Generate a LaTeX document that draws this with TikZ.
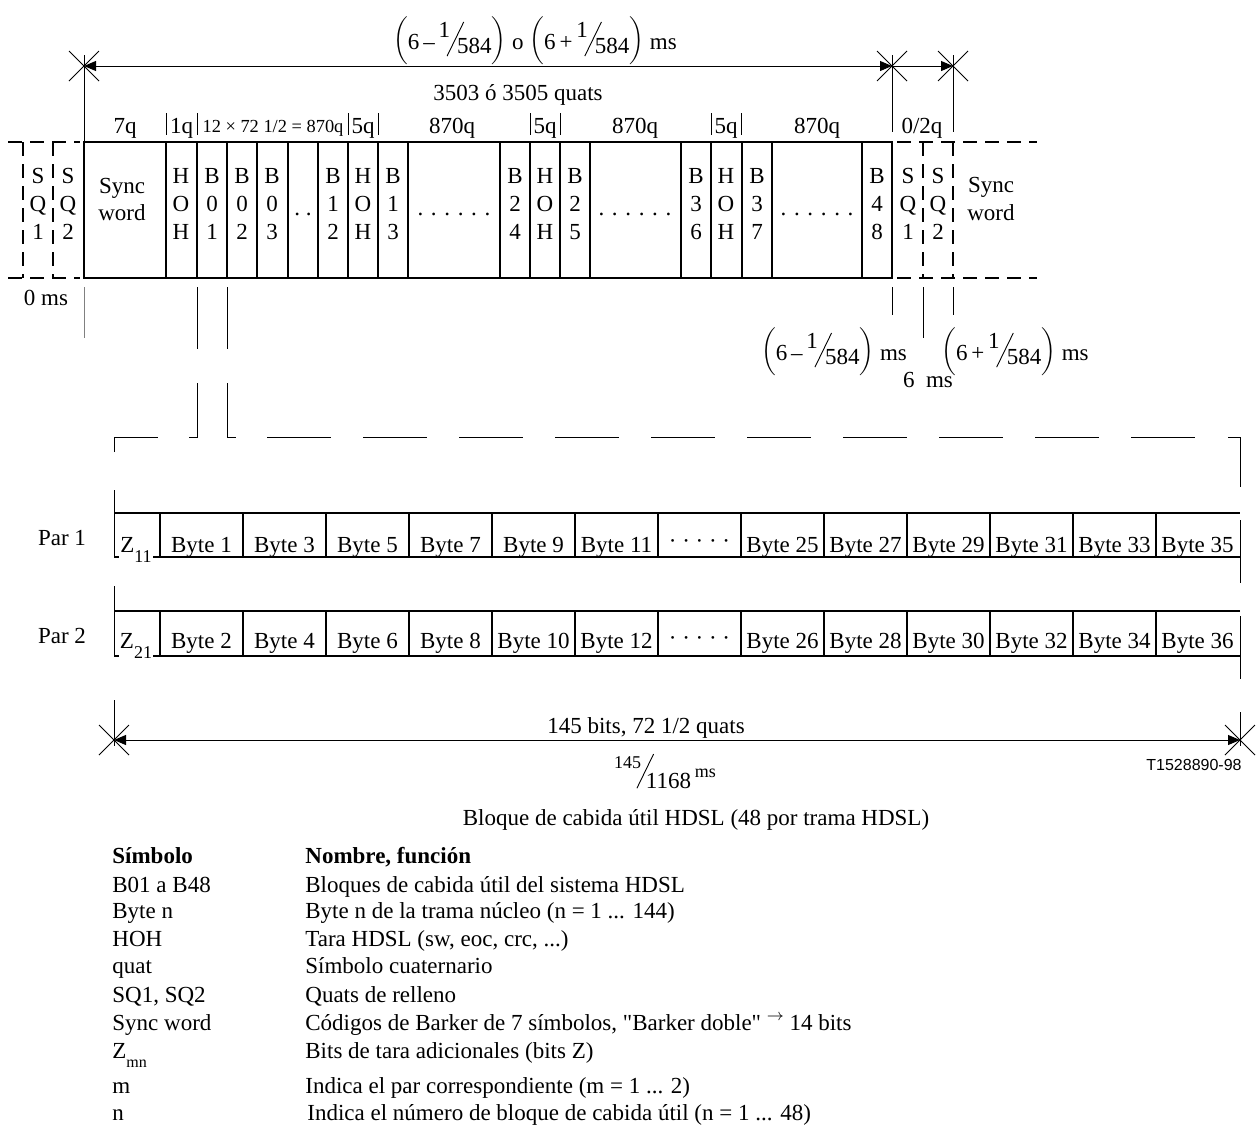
\documentclass[tikz,border=0pt]{standalone}
\usepackage{fontspec}
\setmainfont{Liberation Serif}
\newfontfamily\codefont{Liberation Sans}
\usetikzlibrary{arrows.meta}

\newcommand{\slbar}{\rotatebox{-26}{\rule{0.45pt}{19pt}}}
\newcommand{\fracsl}[2]{\raisebox{0.5em}{#1}\kern-0.15em\raisebox{-0.3em}{\slbar}\kern-0.3em\raisebox{-0.2em}{#2}}
\newcommand{\msval}[1]{\raisebox{0.1em}{$\biggl($}6\,#1\,\fracsl{1}{584}\raisebox{0.1em}{$\biggr)$}}

\begin{document}
\begin{tikzpicture}[x=0.5pt,y=-0.5pt,
	font=\fontsize{11.5}{13.5}\selectfont,
	dim/.style={line width=0.5pt},
	cell/.style={line width=1pt},
	dsh/.style={line width=1pt, dash pattern=on 7pt off 4pt},
	lbl/.style={anchor=base, inner sep=0.5pt},
	hdr/.style={lbl, anchor=base west, font=\fontsize{11.5}{13.5}\selectfont\bfseries},
	dimtip/.tip={Triangle[length=6pt,width=5pt]}]
	\useasboundingbox (0,0) rectangle (1259,1126);
	
	%%% frame length on top
	\coordinate (t0) at (84,66);
	\coordinate (t1) at (892,66);
	\coordinate (t2) at (953,66);
	\draw[dim,dimtip-dimtip] (t0) -- (t1);
	\draw[dim,-dimtip] (t1) -- (t2);
	\foreach \p in {t0,t1,t2} \draw[dim] (\p) ++(-15,-15) -- ++(30,30) ++(0,-30) -- ++(-30,30);
	\draw[dim] (84,55) -- (84,142);
	\draw[dim] (892,55) -- (892,132);
	\draw[dim] (953,55) -- (953,132);
	\node[lbl] (ttot) at (535,49) {\msval{–} o \msval{+} ms};
	\node[lbl] (tquat) at (518,100) {3503 ó 3505 quats};
	
	% field lengths
	\foreach \x in {166,197,348,378,530,560,711,741} \draw[dim] (\x,113) -- (\x,135);
	\node[lbl] (q7) at (125,133) {7q};
	\node[lbl] (q1) at (181.5,133) {1q};
	\node[lbl,font=\fontsize{9.2}{11}\selectfont] (qsub) at (273,132) {12 × 72 1/2 = 870q};
	\node[lbl] (q5a) at (363,133) {5q};
	\node[lbl] (q870a) at (452,133) {870q};
	\node[lbl] (q5b) at (545,133) {5q};
	\node[lbl] (q870b) at (635,133) {870q};
	\node[lbl] (q5c) at (726,133) {5q};
	\node[lbl] (q870c) at (817,133) {870q};
	\node[lbl] (q02) at (922,133) {0/2q};
	
	%%% HDSL frame
	\draw[line width=0.8pt] (84,142) rectangle (892,278);
	\foreach \x in {166,197,227,257,288,318,348,378,408,500,530,560,590,681,711,742,772,862}
		\draw[cell] (\x,142) -- (\x,278);
	\draw[dsh] (8,142) -- (80,142);
	\draw[dsh] (8,278) -- (80,278);
	\draw[dsh] (23,142) -- (23,278);
	\draw[dsh] (53,142) -- (53,278);
	\draw[dsh] (897,142) -- (1037,142);
	\draw[dsh] (897,278) -- (1037,278);
	\draw[dsh] (923,142) -- (923,278);
	\draw[dsh] (953,142) -- (953,278);
	\foreach \x/\a/\b/\c [count=\i] in {38/S/Q/1,68/S/Q/2,181/H/O/H,212/B/0/1,242/B/0/2,272/B/0/3,
		333/B/1/2,363/H/O/H,393/B/1/3,515/B/2/4,545/H/O/H,575/B/2/5,696/B/3/6,726/H/O/H,
		757/B/3/7,877/B/4/8,908/S/Q/1,938/S/Q/2}
	{
		\node[lbl] (f\i-a) at (\x,183.5) {\a};
		\node[lbl] (f\i-b) at (\x,211.5) {\b};
		\node[lbl] (f\i-c) at (\x,239.5) {\c};
	}
	\node[lbl] (sync1) at (122,193) {Sync};
	\node[lbl] (word1) at (122,220) {word};
	\node[lbl] (sync2) at (991,192) {Sync};
	\node[lbl] (word2) at (991,220) {word};
	\node[lbl] (dots1) at (303,215) {.\ .};
	\node[lbl] (dots2) at (454,215) {. . . . . .};
	\node[lbl] (dots3) at (635,215) {. . . . . .};
	\node[lbl] (dots4) at (817,215) {. . . . . .};
	
	% time marks
	\node[lbl] (zero) at (46,305) {0 ms};
	\draw[dim,gray] (84,287) -- (84,338);
	\draw[dim] (197,287) -- (197,349);
	\draw[dim] (227,287) -- (227,349);
	\draw[dim] (892,287) -- (892,315);
	\draw[dim] (923,287) -- (923,338);
	\draw[dim] (953,287) -- (953,315);
	\node[lbl] (tminus) at (834,360) {\msval{–} ms};
	\node[lbl] (tsix) at (928,387) {6\ \ ms};
	\node[lbl] (tplus) at (1015,360) {\msval{+} ms};
	
	%%% payload block, zoomed
	\draw[dim] (197,383) -- (197,437) -- (189,437);
	\draw[dim] (227,383) -- (227,437) -- (236,437);
	\draw[dim] (114,452) -- (114,437) -- (158,437);
	\foreach \x in {267,363,...,1131} \draw[dim] (\x,437) -- ++(64,0);
	\draw[dim] (1228,437) -- (1240,437) -- (1240,487);
	
	% Par 1
	\draw[cell] (114,513) -- (1240,513);
	\draw[cell] (114,557) -- (1240,557);
	\draw[dim] (114,490) -- (114,557);
	\draw[dim] (1240,520) -- (1240,583);
	\foreach \k in {0,...,12} \draw[cell] (160+83*\k,513) -- (160+83*\k,557);
	% Par 2
	\draw[cell] (114,611) -- (1240,611);
	\draw[cell] (114,656) -- (1240,656);
	\draw[dim] (114,586) -- (114,656);
	\draw[dim] (1240,616) -- (1240,679);
	\foreach \k in {0,...,12} \draw[cell] (160+83*\k,611) -- (160+83*\k,656);
	
	\node[lbl] (par1) at (62,545) {Par 1};
	\node[lbl] (par2) at (62,643) {Par 2};
	\node[lbl,fill=white] (z11) at (136,552) {Z\raisebox{-0.45em}{\small 11}};
	\node[lbl,fill=white] (z21) at (136,648) {Z\raisebox{-0.45em}{\small 21}};
	\foreach \k [evaluate=\k as \na using int(2*\k-1), evaluate=\k as \nb using int(2*\k)] in {1,...,6}
	{
		\node[lbl] (p1-\k) at (118.5+83*\k,552) {Byte \na};
		\node[lbl] (p2-\k) at (118.5+83*\k,648) {Byte \nb};
	}
	\foreach \k [evaluate=\k as \na using int(2*\k+9), evaluate=\k as \nb using int(2*\k+10)] in {8,...,13}
	{
		\node[lbl] (p1-\k) at (118.5+83*\k,552) {Byte \na};
		\node[lbl] (p2-\k) at (118.5+83*\k,648) {Byte \nb};
	}
	\node[lbl] (p1-7) at (699.5,548) {· · · · ·};
	\node[lbl] (p2-7) at (699.5,645) {· · · · ·};
	
	% block length
	\coordinate (b0) at (114,740);
	\coordinate (b1) at (1240,740);
	\draw[dim,dimtip-dimtip] (b0) -- (b1);
	\foreach \p in {b0,b1} \draw[dim] (\p) ++(-15,-15) -- ++(30,30) ++(0,-30) -- ++(-30,30);
	\draw[dim] (114,700) -- (114,746);
	\draw[dim] (1240,712) -- (1240,746);
	\node[lbl] (bbits) at (646,733) {145 bits, 72 1/2 quats};
	\node[lbl] (bms) at (665,780) {\raisebox{0.5em}{\small 145}\kern-0.2em\raisebox{-0.35em}{\slbar}\kern-0.35em\raisebox{-0.35em}{1168}\,\raisebox{0.1em}{\small ms}};
	\node[anchor=base east,inner sep=0pt,font=\codefont\fontsize{8}{9.6}\selectfont] (tcode) at (1242,770) {T1528890-98};
	
	%%% legend
	\node[lbl] (caption) at (696,825) {Bloque de cabida útil HDSL (48 por trama HDSL)};
	\node[hdr] (hsym) at (111,863) {Símbolo};
	\node[hdr] (hname) at (304,863) {Nombre, función};
	\node[lbl,anchor=base west] (s1) at (111,892) {B01 a B48};
	\node[lbl,anchor=base west] (n1) at (304,892) {Bloques de cabida útil del sistema HDSL};
	\node[lbl,anchor=base west] (s2) at (111,918) {Byte n};
	\node[lbl,anchor=base west] (n2) at (304,918) {Byte n de la trama núcleo (n = 1 ... 144)};
	\node[lbl,anchor=base west] (s3) at (111,946) {HOH};
	\node[lbl,anchor=base west] (n3) at (304,946) {Tara HDSL (sw, eoc, crc, ...)};
	\node[lbl,anchor=base west] (s4) at (111,973) {quat};
	\node[lbl,anchor=base west] (n4) at (304,973) {Símbolo cuaternario};
	\node[lbl,anchor=base west] (s5) at (111,1002) {SQ1, SQ2};
	\node[lbl,anchor=base west] (n5) at (304,1002) {Quats de relleno};
	\node[lbl,anchor=base west] (s6) at (111,1030) {Sync word};
	\node[lbl,anchor=base west] (n6) at (304,1030) {Códigos de Barker de 7 símbolos, \textquotedbl Barker doble\textquotedbl\ \raisebox{0.4em}{$\scriptstyle\rightarrow$} 14 bits};
	\node[lbl,anchor=base west] (s7) at (111,1058) {Z\raisebox{-0.4em}{\footnotesize mn}};
	\node[lbl,anchor=base west] (n7) at (304,1058) {Bits de tara adicionales (bits Z)};
	\node[lbl,anchor=base west] (s8) at (111,1093) {m};
	\node[lbl,anchor=base west] (n8) at (304,1093) {Indica el par correspondiente (m = 1 ... 2)};
	\node[lbl,anchor=base west] (s9) at (111,1120) {n};
	\node[lbl,anchor=base west] (n9) at (306,1120) {Indica el número de bloque de cabida útil (n = 1 ... 48)};
\end{tikzpicture}
\end{document}
